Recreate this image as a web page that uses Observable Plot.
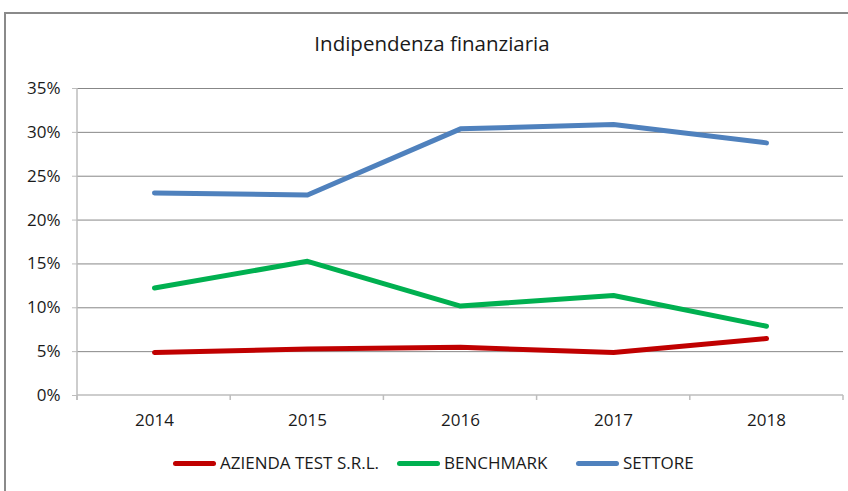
<!DOCTYPE html>
<html>
<head>
<meta charset="utf-8">
<script src="https://cdn.jsdelivr.net/npm/d3@7"></script>
<script src="https://cdn.jsdelivr.net/npm/@observablehq/plot@0.6"></script>
<style>
  html, body { margin: 0; padding: 0; background: #fff; }
  body { width: 848px; height: 491px; overflow: hidden; position: relative; font-family: "Open Sans", sans-serif; color: #1a1a1a; }
  #frame { position: absolute; left: 4px; top: 12px; width: 900px; height: 600px; border-top: 2px solid #8a8a8a; border-left: 2px solid #8a8a8a; box-sizing: border-box; }
  #title { position: absolute; left: 4px; width: 856px; top: 28px; text-align: center; font-size: 20.5px; line-height: 30px; }
  #chart { position: absolute; left: 0; top: 70px; }
  .leg { position: absolute; top: 451px; height: 24px; display: flex; align-items: center; font-size: 17px; line-height: 24px; white-space: nowrap; }
  .leg .sw { display: inline-block; width: 43px; height: 5px; border-radius: 3px; margin-right: 4px; }
</style>
</head>
<body>
<div id="frame"></div>
<div id="title">Indipendenza finanziaria</div>
<div id="chart"></div>
<div id="legend"></div>
<script>
const years = ["2014", "2015", "2016", "2017", "2018"];
const azienda = [4.9, 5.3, 5.5, 4.9, 6.5];
const benchmark = [12.25, 15.3, 10.2, 11.4, 7.9];
const settore = [23.1, 22.85, 30.4, 30.9, 28.8];
const yTicks = [0, 5, 10, 15, 20, 25, 30, 35];
const seriesNames = ["AZIENDA TEST S.R.L.", "BENCHMARK", "SETTORE"];
const seriesColors = ["#C00000", "#00B050", "#4F81BD"];
const legendLeft = [173, 397, 576];

const seriesValues = [azienda, benchmark, settore];
const rows = seriesValues.map(vals => years.map((yr, i) => ({year: yr, v: vals[i]})));

const W = 848, H = 370, mL = 77, mR = 5, mT = 18, mB = 45;

function frameAxes(index, scales, values, dims) {
  const g = d3.create("svg:g");
  const y0 = scales.y(0), y35 = scales.y(35);
  const left = dims.marginLeft, right = dims.width - dims.marginRight;
  const step = (right - left) / years.length;
  // left axis line
  g.append("line").attr("x1", left).attr("x2", left).attr("y1", y35).attr("y2", y0 + 5)
    .attr("stroke", "#bdbdbd").attr("stroke-width", 1.5);
  // bottom axis line
  g.append("line").attr("x1", left).attr("x2", right).attr("y1", y0).attr("y2", y0)
    .attr("stroke", "#bdbdbd").attr("stroke-width", 1.5);
  // category boundary ticks
  for (let i = 0; i <= years.length; i++) {
    const x = left + i * step;
    g.append("line").attr("x1", x).attr("x2", x).attr("y1", y0).attr("y2", y0 + 5)
      .attr("stroke", "#bdbdbd").attr("stroke-width", 1.5);
  }
  return g.node();
}

const plot = Plot.plot({
  width: W, height: H,
  marginLeft: mL, marginRight: mR, marginTop: mT, marginBottom: mB,
  style: {fontFamily: "Open Sans", fontSize: "17px", color: "#1a1a1a", background: "transparent"},
  x: {type: "point", domain: years, padding: 0.5, label: null},
  y: {domain: [0, 35], label: null},
  marks: [
    Plot.ruleY(yTicks.filter(d => d > 0), {y: d => d, stroke: "#878787", strokeWidth: 1}),
    frameAxes,
    Plot.axisY(yTicks, {tickFormat: d => d + "%", tickSize: 5, tickPadding: 12, stroke: "#bdbdbd", fontSize: 17, label: null}),
    Plot.axisX({tickSize: 0, tickPadding: 18, fontSize: 17, label: null}),
    ...rows.map((r, k) => Plot.line(r, {x: "year", y: "v", stroke: seriesColors[k], strokeWidth: 5, strokeLinecap: "round", strokeLinejoin: "round"}))
  ]
});
document.getElementById("chart").appendChild(plot);

const legend = document.getElementById("legend");
seriesNames.forEach((name, k) => {
  const item = document.createElement("div");
  item.className = "leg";
  item.style.left = legendLeft[k] + "px";
  const sw = document.createElement("span");
  sw.className = "sw";
  sw.style.background = seriesColors[k];
  item.appendChild(sw);
  item.appendChild(document.createTextNode(name));
  legend.appendChild(item);
});
</script>
</body>
</html>
